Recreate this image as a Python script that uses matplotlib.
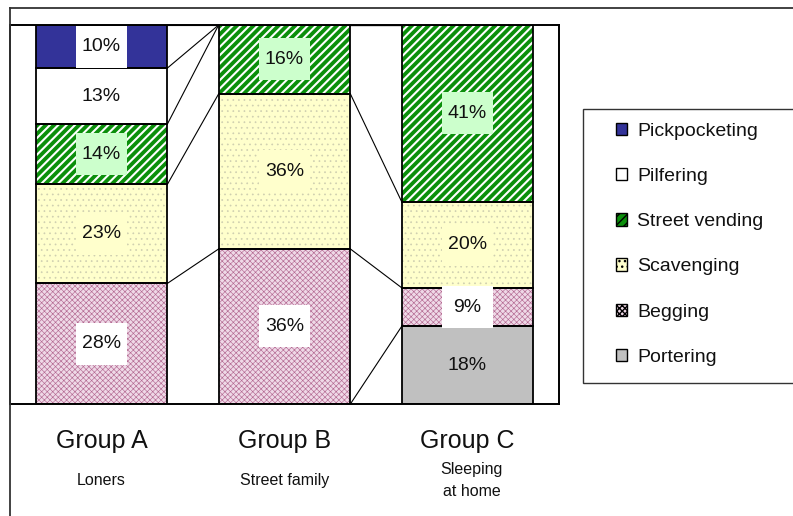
import matplotlib
matplotlib.use("Agg")
import matplotlib.pyplot as plt
import matplotlib.transforms as mtransforms
from matplotlib.patches import Rectangle, Patch
from matplotlib.lines import Line2D
import numpy as np

plt.rcParams['font.family'] = ['Liberation Sans', 'DejaVu Sans']

# ---------------- data ----------------
groups = ["Group A", "Group B", "Group C"]
subtitles = ["Loners", "Street family", "Sleeping\nat home"]
series = ["Portering", "Begging", "Scavenging", "Street vending", "Pilfering", "Pickpocketing"]
portering = [0, 0, 18]
begging = [28, 36, 9]
scavenging = [23, 36, 20]
street_vending = [14, 16, 41]
pilfering = [13, 0, 0]
pickpocketing = [10, 0, 0]
values = [portering, begging, scavenging, street_vending, pilfering, pickpocketing]

# styles (face, hatch, hatch colour, label box colour, hatch linewidth)
styles = {
    "Portering": ("#C0C0C0", None, "#C0C0C0", "#C0C0C0", 0.5),
    "Begging": ("#EFD9E7", "xxxxxx", "#B46A92", "white", 0.45),
    "Scavenging": ("#FFFFCC", "...", "#CFCFB0", "#FFFFCC", 0.5),
    "Street vending": ("#0B8F0B", "////", "white", "#CCFFCC", 1.5),
    "Pilfering": ("white", None, "white", "white", 0.5),
    "Pickpocketing": ("#333399", None, "#333399", "white", 0.5),
}

W, H = 793, 516
fig = plt.figure(figsize=(W / 100, H / 100), dpi=100)
ax = fig.add_axes([10 / W, (H - 404) / H, 549 / W, 379 / H])

vals = np.array(values, dtype=float)
totals = vals.sum(axis=0)
fracs = vals / totals
x = np.arange(len(groups))
bw = 0.72
bottoms = np.zeros(len(groups))
tops_all = []
for s, f in zip(series, fracs):
    face, hatch, hcol, _, lw_h = styles[s]
    with plt.rc_context({'hatch.linewidth': lw_h}):
        bars = ax.bar(x, f, bw, bottom=bottoms, color=face, hatch=hatch,
                      edgecolor=hcol, linewidth=0, zorder=2)
        for b in bars:
            if hasattr(b, "set_hatch_linewidth"):
                b.set_hatch_linewidth(lw_h)
    ax.bar(x, f, bw, bottom=bottoms, fill=False, edgecolor="black",
           linewidth=1.3, zorder=3)
    bottoms = bottoms + f
    tops_all.append(bottoms.copy())

# series connector lines
for tops in tops_all:
    for i in range(len(groups) - 1):
        ax.plot([x[i] + bw / 2, x[i + 1] - bw / 2], [tops[i], tops[i + 1]],
                color="black", linewidth=0.8, zorder=1)
for i in range(len(groups) - 1):
    ax.plot([x[i] + bw / 2, x[i + 1] - bw / 2], [0, 0], color="black",
            linewidth=0.8, zorder=1)

# data labels
bottoms = np.zeros(len(groups))
for s, v, f in zip(series, vals, fracs):
    boxc = styles[s][3]
    for i in range(len(groups)):
        if v[i] > 0:
            yc = bottoms[i] + f[i] / 2
            trans = fig.dpi_scale_trans + mtransforms.ScaledTranslation(x[i], yc, ax.transData)
            ax.add_patch(Rectangle((-0.255, -0.21), 0.51, 0.42, transform=trans,
                                   facecolor=boxc, edgecolor="none", zorder=4))
            ax.text(x[i], yc, f"{int(v[i])}%", ha="center", va="center",
                    fontsize=14, zorder=5, color="#111111")
    bottoms = bottoms + f

ax.set_xlim(-0.5, len(groups) - 0.5)
ax.set_ylim(0, 1)
ax.set_yticks([])
ax.set_xticks(x)
ax.set_xticklabels(groups, fontsize=18, color="#111111")
ax.tick_params(axis="x", length=0, pad=18)
for sp in ax.spines.values():
    sp.set_linewidth(1.4)
    sp.set_color("black")

for i, sub in enumerate(subtitles):
    lines = sub.split("\n")
    if len(lines) == 1:
        ax.annotate(lines[0], xy=(x[i], 0), xycoords=("data", "axes fraction"),
                    xytext=(0, -55), textcoords="offset points", ha="center",
                    va="center", fontsize=11.5, color="#111111")
    else:
        ax.annotate(lines[0], xy=(x[i], 0), xycoords=("data", "axes fraction"),
                    xytext=(3, -47), textcoords="offset points", ha="center",
                    va="center", fontsize=11.5, color="#111111")
        ax.annotate(lines[1], xy=(x[i], 0), xycoords=("data", "axes fraction"),
                    xytext=(3, -63), textcoords="offset points", ha="center",
                    va="center", fontsize=11.5, color="#111111")

# figure border lines (top and left)
fig.add_artist(Line2D([9.5 / W, 1], [1 - 8 / H, 1 - 8 / H], transform=fig.transFigure,
                      color="#333333", linewidth=1.3))
fig.add_artist(Line2D([9.5 / W, 9.5 / W], [0, 1 - 8 / H], transform=fig.transFigure,
                      color="#333333", linewidth=1.3))

# legend frame
fig.add_artist(Rectangle((583 / W, (H - 383) / H), 230 / W, 274 / H,
                         transform=fig.transFigure, facecolor="white",
                         edgecolor="#333333", linewidth=1.0, clip_on=False))
handles = []
for s in reversed(series):
    face, hatch, hcol, _, _ = styles[s]
    h = Patch(facecolor=face, hatch=hatch, edgecolor="black", linewidth=1.0)
    handles.append(h)
leg = fig.legend(handles, list(reversed(series)), loc="upper left",
                 bbox_to_anchor=(606 / W, 1 - 113 / H), frameon=False,
                 fontsize=14, handlelength=0.6, handleheight=0.6,
                 handletextpad=0.5, labelspacing=1.45, borderpad=0)
for t in leg.get_texts():
    t.set_color("#111111")

fig.savefig("out.png", dpi=100)
